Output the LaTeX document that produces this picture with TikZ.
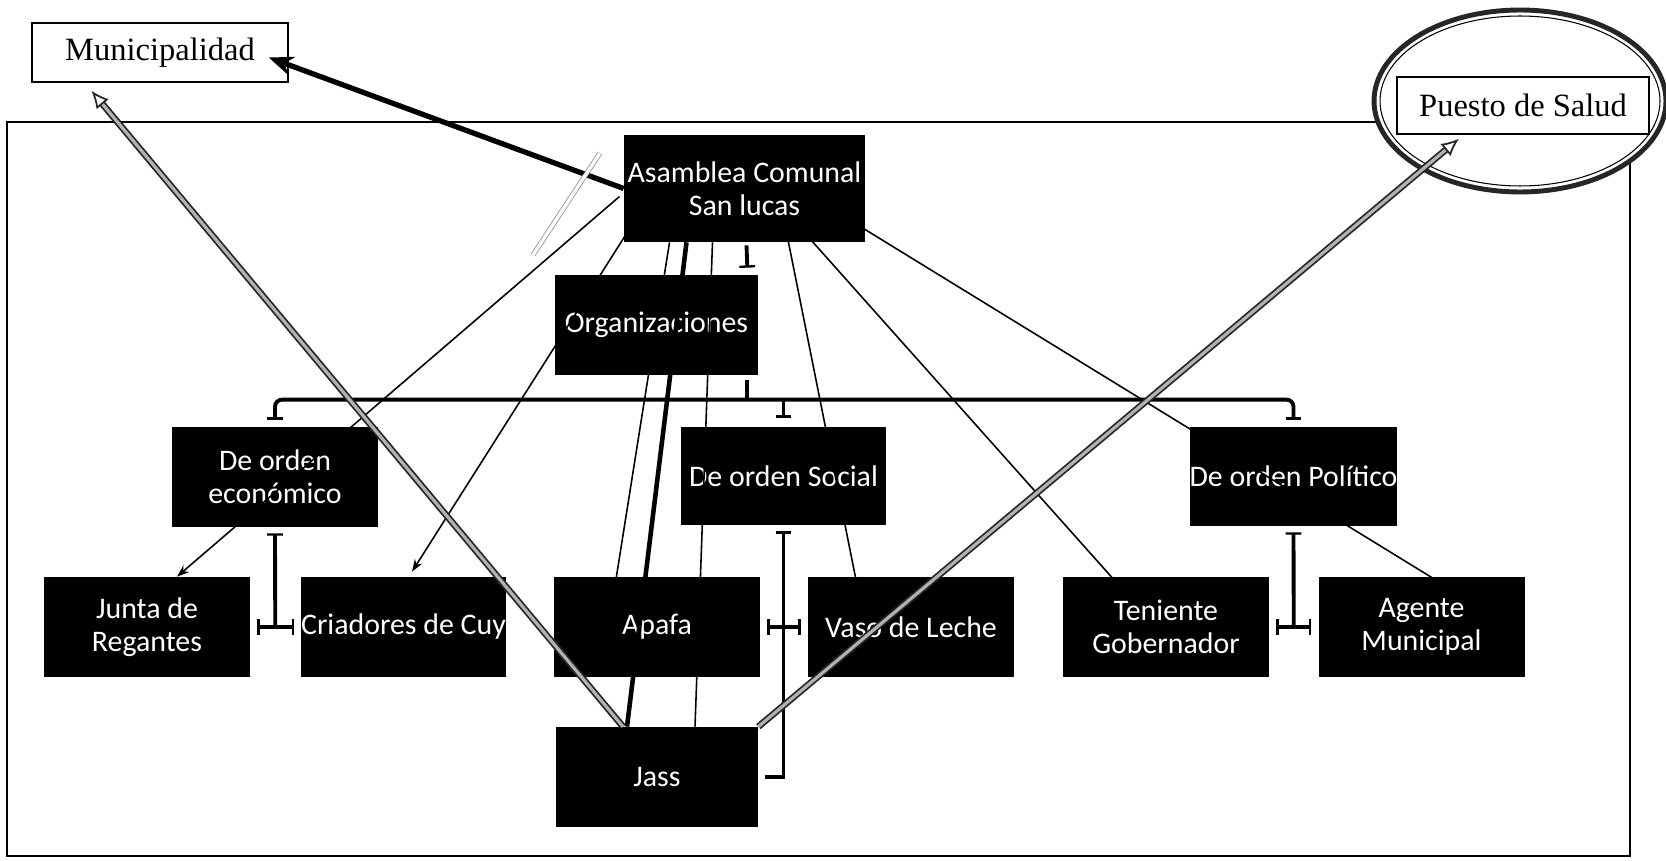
\documentclass[tikz,border=0pt]{standalone}
\usepackage{fontspec}
\setmainfont{Liberation Serif}
\newfontfamily\calibri{Carlito}
\usetikzlibrary{arrows.meta, calc, positioning}

\begin{document}
\begin{tikzpicture}[x=0.02cm, y=-0.02cm,
    caja/.style={fill=black, text=white, font=\calibri\fontsize{17}{19}\selectfont,
      align=center, inner sep=0pt, minimum width=4.12cm, minimum height=2cm},
    externo/.style={draw=black, fill=white, line width=0.8pt,
      font=\fontsize{18.5}{22}\selectfont, inner sep=0pt},
    org/.style={line width=2.2pt},
    barra/.tip={Bar[width=9pt, line width=1.3pt]},
    rel/.style={line width=0.9pt, -{Stealth[length=7pt, width=5pt]}},
    doble/.style={draw=black!85, double=gray!60, double distance=1.8pt, line width=1pt,
      -{Latex[open, length=10pt, width=9pt]}}]
  \useasboundingbox (0,0) rectangle (1666,861);

  % marco de la comunidad
  \draw[line width=0.8pt] (7,122) rectangle (1630,856);

  % actores externos
  \node[externo, minimum width=5.12cm, minimum height=1.18cm] (muni) at (160,52.5) {Municipalidad};
  \draw[line width=2.8pt, draw=black!85, fill=white] (1520,101) ellipse [x radius=2.92cm, y radius=1.82cm];
  \draw[line width=0.6pt] (1520,101) ellipse [x radius=2.8cm, y radius=1.7cm];
  \node[externo, minimum width=5.04cm, minimum height=1.14cm] (puesto) at (1523,105.5) {Puesto de Salud};

  % organigrama
  \node[caja, minimum width=4.82cm, minimum height=2.14cm] (asam) at (744.5,188.5) {Asamblea Comunal\\San lucas};
  \node[caja, minimum width=4.06cm] (orgs) at (656.5,325) {Organizaciones};
  \node[caja] (eco) at (275,477) {De orden\\económico};
  \node[caja, minimum width=4.1cm, minimum height=1.96cm] (soc) at (783.5,476) {De orden Social};
  \node[caja, minimum width=4.1cm, minimum height=1.98cm] (pol) at (1293.5,476.5) {De orden Político};
  \node[caja] (junta) at (147,627) {Junta de\\Regantes};
  \node[caja] (cria) at (403.5,627) {Criadores de Cuy};
  \node[caja] (apafa) at (657,627) {Apafa};
  \node[caja] (vaso) at (911,627) {Vaso de Leche};
  \node[caja] (teni) at (1166,627) {Teniente\\Gobernador};
  \node[caja] (agente) at (1421.5,627) {Agente\\Municipal};
  \node[caja, minimum width=4.04cm] (jass) at (657,777) {Jass};

  % conectores del organigrama
  \draw[org, -barra] ($(asam.south)+(2,3)$) -- ($(orgs.north east)+(-11,-7)$);
  \draw[org] ($(orgs.south east)+(-11,5)$) -- ($(orgs.south east)+(-11,25)$);
  \draw[org, barra-barra, rounded corners=4pt] ($(eco.north)+(0,-7)$) |- ($(pol.north)+(0,-27)$)
    -- ($(pol.north)+(0,-7)$);
  \draw[org, -barra] ($(soc.north)+(0,-27)$) -- ($(soc.north)+(0,-9)$);
  \draw[org, barra-] ($(eco.south)+(0,6)$) -- ($(junta.east)!.5!(cria.west)$);
  \draw[org, barra-barra] ($(junta.east)+(7,0)$) -- ($(cria.west)+(-6,0)$);
  \draw[org, barra-] ($(soc.south)+(0,6)$) |- ($(jass.east)+(7,0)$);
  \draw[org, barra-barra] ($(apafa.east)+(7,0)$) -- ($(vaso.west)+(-7,0)$);
  \draw[org, barra-] ($(pol.south)+(0,6)$) -- ($(teni.east)!.5!(agente.west)$);
  \draw[org, barra-barra] ($(teni.east)+(7,0)$) -- ($(agente.west)+(-7,0)$);

  % relaciones de la asamblea
  \draw[rel] ($(asam.center)+(-125,8)$) -- ($(junta.north)+(30,0)$);
  \draw[rel] ($(asam.center)+(-90,1)$) -- ($(cria.north)+(8.5,-5)$);
  \draw[rel] ($(asam.south)+(-75,0)$) -- ($(apafa.center)+(-47,-10)$);
  \draw[line width=2.6pt] ($(asam.south)+(-58,0)$) -- ($(jass.north)+(-30,0)$);
  \draw[line width=0.9pt] ($(asam.south)+(-32,0)$) -- ($(jass.north)+(38,0)$);
  \draw[rel] ($(asam.center)+(40,34)$) -- ($(vaso.center)+(-49,-17)$);
  \draw[rel] ($(asam.center)+(50,33)$) -- ($(teni.center)+(-34,-27)$);
  \draw[rel] ($(asam.center)+(88,21)$) -- ($(agente.center)+(35.5,-34)$);
  \draw[line width=3pt, -{Stealth[length=14pt, width=11pt]}] (asam.west) -- ($(muni.east)+(-20,5)$);
  \coordinate (r1) at (600,153);
  \coordinate (r2) at (533,255);
  \draw[gray, line width=0.4pt, double, double distance=2pt] (r1) -- (r2);

  % relaciones de la Jass
  \draw[doble] ($(jass.north)+(-34,0)$) -- ($(muni.south west)+(60,8)$);
  \draw[doble] (jass.north east) -- ($(puesto.south)+(-64,4)$);
\end{tikzpicture}
\end{document}
